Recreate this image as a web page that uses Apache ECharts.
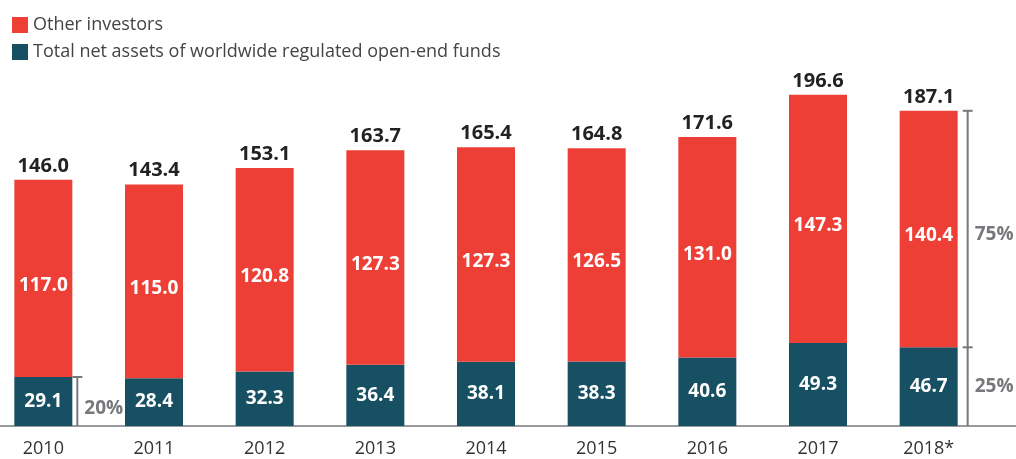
<!DOCTYPE html>
<html>
<head>
<meta charset="utf-8">
<script src="https://cdn.jsdelivr.net/npm/echarts@6/dist/echarts.min.js"></script>
<style>
html, body { margin: 0; padding: 0; background: #fff; }
#chart { width: 1016px; height: 459px; }
</style>
</head>
<body>
<div id="chart"></div>
<script>
const years = ['2010', '2011', '2012', '2013', '2014', '2015', '2016', '2017', '2018*']
const funds = [29.1, 28.4, 32.3, 36.4, 38.1, 38.3, 40.6, 49.3, 46.7]
const others = [117.0, 115.0, 120.8, 127.3, 127.3, 126.5, 131.0, 147.3, 140.4]
const totals = [146.0, 143.4, 153.1, 163.7, 165.4, 164.8, 171.6, 196.6, 187.1]
const shareLow = ['20%', null, null, null, null, null, null, null, '25%']
const shareHigh = [null, null, null, null, null, null, null, null, '75%']

const RED = '#ee3f36'
const TEAL = '#174f63'
const GREY = '#77787b'
const FONT = 'Open Sans'

const chart = echarts.init(document.getElementById('chart'))

const bracketData = []
years.forEach((y, i) => {
	if (shareLow[i]) bracketData.push([i, funds[i], totals[i], shareLow[i], shareHigh[i] || ''])
})

function renderBracket(params, api) {
	const idx = api.value(0)
	const low = api.value(1)
	const high = api.value(2)
	const labLow = api.value(3)
	const labHigh = api.value(4)
	const base = api.coord([idx, 0])
	const mid = api.coord([idx, low])
	const top = api.coord([idx, high])
	const x = base[0] + (labHigh ? 39 : 34)
	const lineStyle = { stroke: GREY, lineWidth: 2 }
	const textStyle = (t, y) => ({
		type: 'text',
		style: { text: t, x: x + 7, y: y, textVerticalAlign: 'middle', fill: GREY, font: 'bold 19px "' + FONT + '"' }
	})
	const children = []
	const yTop = labHigh ? top[1] : mid[1]
	children.push({ type: 'line', shape: { x1: x, y1: base[1], x2: x, y2: yTop }, style: lineStyle })
	children.push({ type: 'line', shape: { x1: x - 5, y1: mid[1], x2: x + 5, y2: mid[1] }, style: lineStyle })
	if (labHigh) {
		children.push({ type: 'line', shape: { x1: x - 5, y1: top[1], x2: x + 5, y2: top[1] }, style: lineStyle })
		children.push(textStyle(labHigh, (mid[1] + top[1]) / 2 + 6))
		children.push(textStyle(labLow, (base[1] + mid[1]) / 2))
	} else {
		children.push(textStyle(labLow, (base[1] + mid[1]) / 2 + 7))
	}
	return { type: 'group', children: children }
}

chart.setOption({
	animation: false,
	textStyle: { fontFamily: FONT },
	legend: {
		orient: 'vertical',
		left: 7,
		top: 11,
		itemWidth: 16,
		itemHeight: 16,
		itemGap: 9,
		icon: 'rect',
		data: ['Other investors', 'Total net assets of worldwide regulated open-end funds'],
		textStyle: { color: '#444', fontSize: 18, lineHeight: 16, fontFamily: FONT }
	},
	grid: { left: -12, right: 32, top: 20, bottom: 33, outerBoundsMode: 'none' },
	xAxis: {
		type: 'category',
		data: years,
		axisLine: { show: false },
		axisTick: { show: false },
		axisLabel: { color: '#333', fontSize: 18, margin: 14, fontFamily: FONT }
	},
	yAxis: {
		type: 'value',
		min: 0,
		max: 241,
		show: false,
		splitLine: { show: false }
	},
	graphic: [{
		type: 'line',
		shape: { x1: 0, y1: 426, x2: 1016, y2: 426 },
		style: { stroke: GREY, lineWidth: 1.5 }
	}],
	series: [
		{
			name: 'Total net assets of worldwide regulated open-end funds',
			type: 'bar',
			stack: 'all',
			barWidth: 58,
			itemStyle: { color: TEAL },
			label: {
				show: true,
				position: 'inside',
				color: '#fff',
				fontSize: 19,
				fontWeight: 'bold',
				formatter: p => p.value.toFixed(1)
			},
			data: funds
		},
		{
			name: 'Other investors',
			type: 'bar',
			stack: 'all',
			barWidth: 58,
			itemStyle: { color: RED },
			label: {
				show: true,
				position: 'inside',
				offset: [0, 7],
				color: '#fff',
				fontSize: 19,
				fontWeight: 'bold',
				formatter: p => p.value.toFixed(1)
			},
			data: others
		},
		{
			name: 'totals',
			type: 'bar',
			stack: 'all',
			barWidth: 58,
			itemStyle: { color: 'transparent' },
			label: {
				show: true,
				position: 'insideBottom',
				distance: 4,
				color: '#222',
				fontSize: 20,
				fontWeight: 'bold',
				formatter: p => totals[p.dataIndex].toFixed(1)
			},
			silent: true,
			data: totals.map(() => 0.001)
		},
		{
			name: 'brackets',
			type: 'custom',
			renderItem: renderBracket,
			silent: true,
			z: 5,
			data: bracketData
		}
	]
})
</script>
</body>
</html>
